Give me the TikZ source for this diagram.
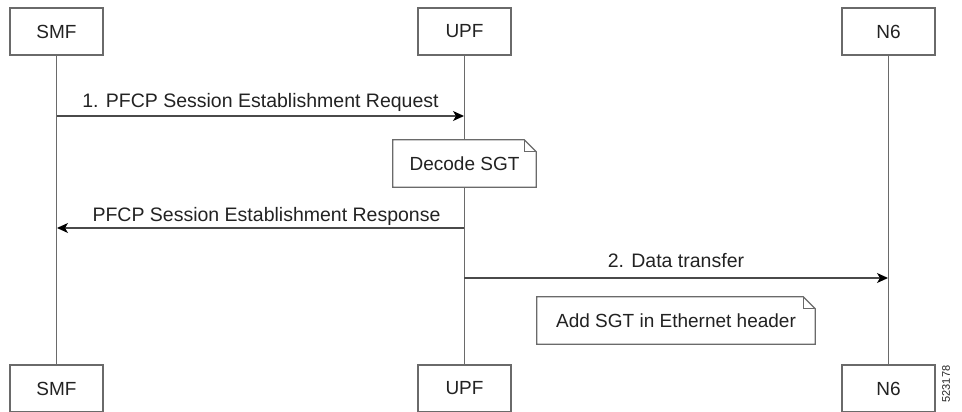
\documentclass[tikz,border=0pt]{standalone}
\usepackage{fontspec}
\setmainfont{Liberation Sans}
\usetikzlibrary{arrows.meta}
\definecolor{ln}{HTML}{6A6A6A}
\definecolor{tx}{HTML}{222222}
\begin{document}
\begin{tikzpicture}[x=1pt,y=-1pt,
  actor/.style={draw=ln,line width=1.2pt,fill=white,minimum width=93pt,minimum height=47pt,inner sep=0pt,text=tx,font=\fontsize{19}{21}\selectfont},
  life/.style={draw=ln,line width=1.2pt},
  msg/.style={draw=ln!70!black,line width=1.3pt,-{Stealth[length=11pt,width=10pt,inset=3pt,black]}},
  lbl/.style={text=tx,font=\fontsize{19.5}{21}\selectfont,anchor=base,inner sep=0pt},
  notebox/.style={draw=none,minimum height=47pt,inner sep=0pt,text=tx,font=\fontsize{19}{21}\selectfont},
  noteline/.style={draw=ln,line width=1.2pt,fill=white}]
\useasboundingbox (0,0) rectangle (962,412);
% actors
\node[actor] (smfT) at (56.5,31.5) {SMF};
\node[actor] (upfT) at (464.5,31.5) {UPF};
\node[actor] (n6T) at (888.5,31.5) {N6};
\node[actor] (smfB) at (56.5,388.5) {SMF};
\node[actor] (upfB) at (464.5,388.5) {UPF};
\node[actor] (n6B) at (888.5,388.5) {N6};
% lifelines
\draw[life] (smfT) -- (smfB);
\draw[life] (upfT) -- (upfB);
\draw[life] (n6T) -- (n6B);
% message end points
\coordinate (m1a) at (57,116);
\coordinate (m1b) at (464,116);
\coordinate (m2a) at (464,228);
\coordinate (m2b) at (57,228);
\coordinate (m3a) at (464,278);
\coordinate (m3b) at (888,278);
\draw[msg] (m1a) -- node[lbl,yshift=9pt] {1. PFCP Session Establishment Request} (m1b);
\draw[msg] (m2a) -- node[lbl,yshift=7pt,xshift=6pt] {PFCP Session Establishment Response} (m2b);
\draw[msg] (m3a) -- node[lbl,yshift=11pt] {2. Data transfer} (m3b);
% notes
\def\fold{12}
\node[notebox,minimum width=143pt] (n1) at (464.5,163.5) {};
\draw[noteline] (n1.north west) -- ([xshift=-\fold pt]n1.north east) -- ([yshift=-\fold pt]n1.north east) -- (n1.south east) -- (n1.south west) -- cycle;
\draw[draw=ln,line width=0.8pt] ([xshift=-\fold pt]n1.north east) -- ([xshift=-\fold pt,yshift=-\fold pt]n1.north east) -- ([yshift=-\fold pt]n1.north east);
\node[notebox,minimum width=143pt] (n1t) at (n1) {Decode SGT};
\node[notebox,minimum width=278pt] (n2) at (676,320.5) {};
\draw[noteline] (n2.north west) -- ([xshift=-\fold pt]n2.north east) -- ([yshift=-\fold pt]n2.north east) -- (n2.south east) -- (n2.south west) -- cycle;
\draw[draw=ln,line width=0.8pt] ([xshift=-\fold pt]n2.north east) -- ([xshift=-\fold pt,yshift=-\fold pt]n2.north east) -- ([yshift=-\fold pt]n2.north east);
\node[notebox,minimum width=278pt] (n2t) at (n2) {Add SGT in Ethernet header};
% figure number
\node[rotate=90,text=tx,font=\fontsize{11}{13}\selectfont,inner sep=0pt] (fig) at (946,384) {523178};
\end{tikzpicture}
\end{document}
